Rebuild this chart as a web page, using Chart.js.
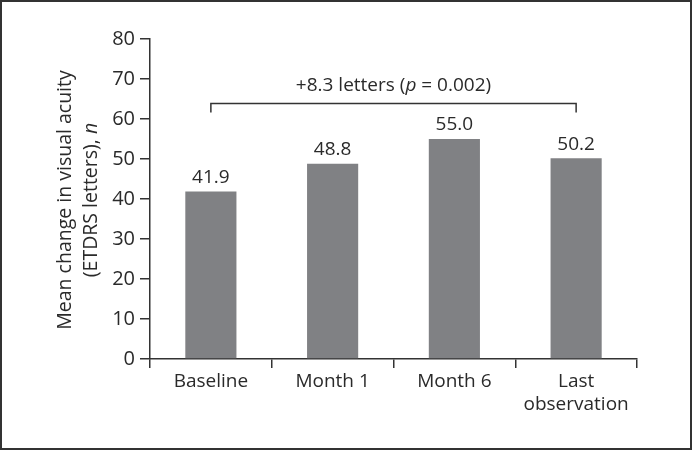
<!DOCTYPE html>
<html>
<head>
<meta charset="utf-8">
<script src="https://cdn.jsdelivr.net/npm/chart.js@4/dist/chart.umd.min.js"></script>
<style>
  html, body { margin: 0; padding: 0; background: #fff; }
  #wrap { position: relative; width: 692px; height: 450px; box-sizing: border-box; border: 2px solid #333; background:#fff; }
  #c { position: absolute; left: -2px; top: -2px; }
</style>
</head>
<body>
<div id="wrap"><canvas id="c" width="692" height="450"></canvas></div>
<script>
const categories = ['Baseline', 'Month 1', 'Month 6', ['Last', 'observation']];
const meanValues = [41.9, 48.8, 55.0, 50.2];
const valueLabels = ['41.9', '48.8', '55.0', '50.2'];
const yTicks = [0, 10, 20, 30, 40, 50, 60, 70, 80];
const bracketFromTo = [0, 3];
const bracketLevel = [64];
const bracketText = ['+8.3 letters (', 'p', ' = 0.002)'];
const yTitleLines = ['Mean change in visual acuity', '(ETDRS letters), '];
const yTitleItalic = ['', 'n'];

const FONT = '"Open Sans", "Noto Sans", sans-serif';
const TXT = '#2a2a2a';
const AX = '#333333';
const FS = 19;

const drawExtras = {
  id: 'drawExtras',
  afterDatasetsDraw(chart) {
    const ctx = chart.ctx;
    const xs = chart.scales.x, ys = chart.scales.y;
    ctx.save();
    ctx.fillStyle = TXT;
    ctx.font = FS + 'px ' + FONT;
    ctx.textAlign = 'center';
    ctx.textBaseline = 'middle';
    // value labels
    const meta = chart.getDatasetMeta(0);
    meta.data.forEach((bar, i) => {
      ctx.fillText(valueLabels[i], bar.x, bar.y - 14);
    });
    // bracket
    const x1 = xs.getPixelForValue(bracketFromTo[0]);
    const x2 = xs.getPixelForValue(bracketFromTo[1]);
    const yb = Math.round(ys.getPixelForValue(bracketLevel[0])) + 0.5;
    ctx.strokeStyle = AX;
    ctx.lineWidth = 1.5;
    ctx.beginPath();
    ctx.moveTo(x1, yb + 9);
    ctx.lineTo(x1, yb);
    ctx.lineTo(x2, yb);
    ctx.lineTo(x2, yb + 9);
    ctx.stroke();
    // bracket text with italic p
    const fonts = [FS + 'px ' + FONT, 'italic ' + FS + 'px ' + FONT, FS + 'px ' + FONT];
    let widths = bracketText.map((t, i) => { ctx.font = fonts[i]; return ctx.measureText(t).width; });
    let total = widths.reduce((a, b) => a + b, 0);
    let cx = (x1 + x2) / 2 - total / 2;
    ctx.textAlign = 'left';
    bracketText.forEach((t, i) => {
      ctx.font = fonts[i];
      ctx.fillText(t, cx, yb - 18);
      cx += widths[i];
    });
    // y-axis title (rotated, two lines, italic n)
    const TS = 19.5;
    const cy = (chart.chartArea.top + chart.chartArea.bottom) / 2 + 1;
    const lineX = [65, 91];
    yTitleLines.forEach((line, i) => {
      ctx.save();
      ctx.translate(lineX[i], cy);
      ctx.rotate(-Math.PI / 2);
      ctx.font = TS + 'px ' + FONT;
      const w1 = ctx.measureText(line).width;
      ctx.font = 'italic ' + TS + 'px ' + FONT;
      const w2 = ctx.measureText(yTitleItalic[i]).width;
      let sx = -(w1 + w2) / 2;
      ctx.textAlign = 'left';
      ctx.font = TS + 'px ' + FONT;
      ctx.fillText(line, sx, 0);
      ctx.font = 'italic ' + TS + 'px ' + FONT;
      ctx.fillText(yTitleItalic[i], sx + w1, 0);
      ctx.restore();
    });
    ctx.restore();
  }
};

new Chart(document.getElementById('c'), {
  type: 'bar',
  data: {
    labels: categories,
    datasets: [{
      data: meanValues,
      backgroundColor: '#808184',
      borderWidth: 0,
      barPercentage: 0.42,
      categoryPercentage: 1.0
    }]
  },
  options: {
    responsive: false,
    animation: false,
    events: [],
    layout: { padding: { left: 0, right: 55, top: 39, bottom: 0 } },
    plugins: { legend: { display: false }, tooltip: { enabled: false }, title: { display: false } },
    scales: {
      x: {
        offset: true,
        border: { display: true, color: AX, width: 1.5 },
        grid: { display: true, offset: true, drawOnChartArea: false, drawTicks: true, tickLength: 9, color: AX, lineWidth: 1.5 },
        ticks: { color: TXT, font: { family: FONT, size: FS, lineHeight: 1.2 }, padding: 2, maxRotation: 0, autoSkip: false },
        afterFit(scale) { scale.height = 91; }
      },
      y: {
        min: 0, max: 80,
        afterBuildTicks(scale) { scale.ticks = yTicks.map(v => ({ value: v })); },
        border: { display: true, color: AX, width: 1.5 },
        grid: { display: true, drawOnChartArea: false, drawTicks: true, tickLength: 10, color: AX, lineWidth: 1.5 },
        ticks: { color: TXT, font: { family: FONT, size: 20 }, padding: 5 },
        afterFit(scale) { scale.width = 150; }
      }
    }
  },
  plugins: [drawExtras]
});
</script>
</body>
</html>
